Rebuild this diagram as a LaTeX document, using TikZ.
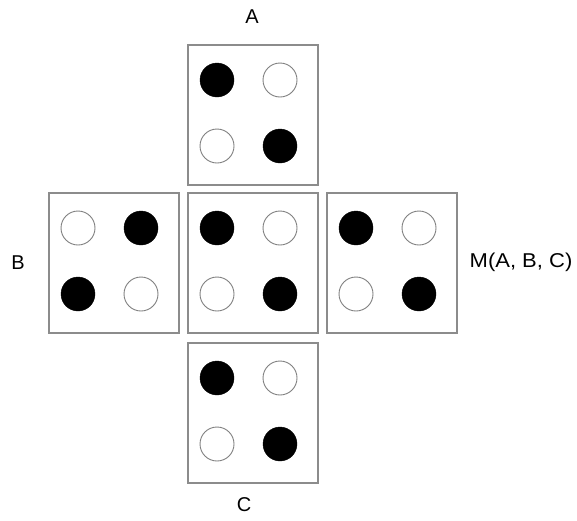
\documentclass[tikz,border=0pt]{standalone}
\usepackage{fontspec}
\setmainfont{Liberation Sans}
\tikzset{
  tile/.style={draw=black!45, line width=2pt, fill=white, minimum width=130pt, minimum height=140pt, inner sep=0pt, anchor=north west},
  dotfull/.style={circle, fill=black, draw=black, line width=0.4pt, minimum size=34pt, inner sep=0pt},
  dotempty/.style={circle, fill=white, draw=black!50, line width=0.9pt, minimum size=34pt, inner sep=0pt},
  lbl/.style={font=\fontsize{20}{23}\selectfont, inner sep=0pt}
}
% four dots of a tile: #1 tile name, #2..#5 styles for TL, TR, BL, BR
\newcommand\fourdots[5]{%
  \node[#2] (#1-tl) at ([shift={(30,36)}]#1.north west) {};
  \node[#3] (#1-tr) at ([shift={(93,36)}]#1.north west) {};
  \node[#4] (#1-bl) at ([shift={(30,102)}]#1.north west) {};
  \node[#5] (#1-br) at ([shift={(93,102)}]#1.north west) {};
}
\begin{document}
\begin{tikzpicture}[x=1pt, y=-1pt]
  \useasboundingbox[fill=white] (0,0) rectangle (577,520);
  % tiles
  \node[tile] (ta) at (187,44) {};
  \node[tile] (tb) at (48,192) {};
  \node[tile] (tm) at (187,192) {};
  \node[tile] (tr) at (326,192) {};
  \node[tile] (tc) at (187,342) {};
  % dots
  \fourdots{ta}{dotfull}{dotempty}{dotempty}{dotfull}
  \fourdots{tb}{dotempty}{dotfull}{dotfull}{dotempty}
  \fourdots{tm}{dotfull}{dotempty}{dotempty}{dotfull}
  \fourdots{tr}{dotfull}{dotempty}{dotempty}{dotfull}
  \fourdots{tc}{dotfull}{dotempty}{dotempty}{dotfull}
  % labels
  \node[lbl] (la) at (252,17) {A};
  \node[lbl] (lb) at (18,263) {B};
  \node[lbl, xscale=1.1] (lm) at (521,262) {M(A, B, C)};
  \node[lbl] (lc) at (244,505) {C};
\end{tikzpicture}
\end{document}
